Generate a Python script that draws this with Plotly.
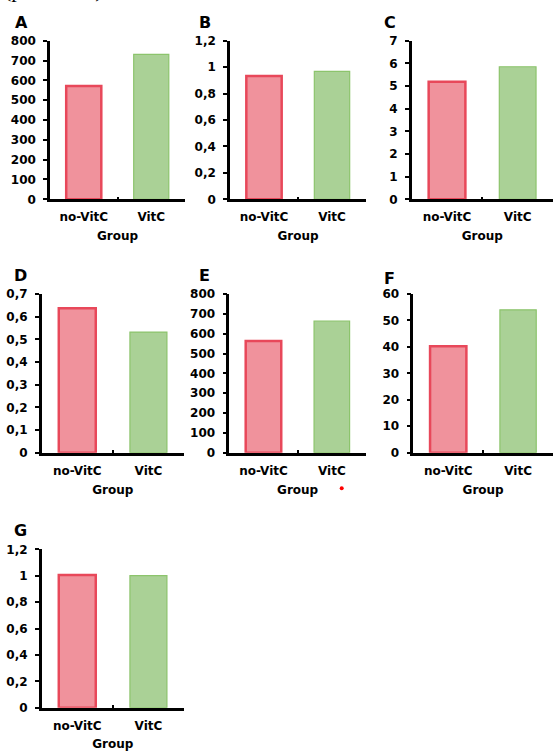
import plotly.graph_objects as go

W, H = 554, 751

groups = ["no-VitC", "VitC"]
panel_letters = ["A", "B", "C", "D", "E", "F", "G"]
values_A = [571, 731]
values_B = [0.933, 0.968]
values_C = [5.19, 5.85]
values_D = [0.637, 0.532]
values_E = [563, 664]
values_F = [40.2, 54.0]
values_G = [1.005, 1.0]
y_max = [800, 1.2, 7, 0.7, 800, 60, 1.2]
y_step = [100, 0.2, 1, 0.1, 100, 10, 0.2]
x_title = "Group"
header_text = "(p < 0.001)"

all_values = [values_A, values_B, values_C, values_D, values_E, values_F, values_G]

# panel pixel boxes: (x_left, x_right, y_bottom, y_top)
boxes = [
    (50, 185, 199.3, 40.7),
    (230, 366, 199.3, 40.7),
    (411.7, 553, 199.3, 40.7),
    (41.7, 184, 452.7, 294),
    (229.3, 366, 452.7, 294),
    (413.3, 553, 452.7, 294),
    (41.7, 184, 707.7, 549.3),
]
letter_pos = [(13, 22.5), (197, 22.5), (381.5, 22.5), (12, 275), (196.5, 276), (381.5, 278), (12, 530)]

red_fill = "#F0929C"
red_line = "#E8485A"
green_fill = "#AAD196"
green_line = "#8CC46C"

fig = go.Figure()
font_tick = dict(family="DejaVu Sans", size=12, color="black", weight="bold")

annotations = []
for i, (vals, box) in enumerate(zip(all_values, boxes)):
    n = "" if i == 0 else str(i + 1)
    xa, ya = "x" + n, "y" + n
    fig.add_trace(go.Bar(
        x=groups, y=vals, xaxis=xa, yaxis=ya, width=0.52,
        marker=dict(color=[red_fill, green_fill],
                    line=dict(color=[red_line, green_line], width=[2.5, 1.2])),
        showlegend=False, hoverinfo="skip",
    ))
    xl, xr, yb, yt = box
    xkey = "xaxis" + n
    ykey = "yaxis" + n
    fig.layout[xkey] = dict(
        domain=[xl / W, xr / W], anchor=ya, type="category", automargin=False,
        range=[-0.5, 1.5], showline=True, linecolor="black", linewidth=2.5,
        ticks="inside", tickson="boundaries", ticklen=3, tickwidth=2, tickcolor="black",
        showgrid=False, zeroline=False, tickfont=font_tick,
        ticklabelstandoff=5,
        title=dict(text=x_title, font=font_tick, standoff=9),
    )
    fig.layout[ykey] = dict(
        domain=[(H - yb) / H, (H - yt) / H], anchor=xa, automargin=False,
        range=[0, y_max[i]], dtick=y_step[i], tick0=0,
        showline=True, linecolor="black", linewidth=2.5,
        ticks="outside", ticklen=4, tickwidth=2, tickcolor="black",
        showgrid=False, zeroline=False, tickfont=font_tick,
        ticklabelstandoff=5,
    )
    lx, ly = letter_pos[i]
    annotations.append(dict(
        text=panel_letters[i], x=lx / W, y=1 - ly / H, xref="paper", yref="paper",
        xanchor="left", yanchor="middle", showarrow=False,
        font=dict(family="DejaVu Sans", size=16, color="black", weight="bold"),
    ))

annotations.append(dict(
    text=header_text, x=2 / W, y=1 - 4 / H, xref="paper", yref="paper",
    xanchor="left", yanchor="bottom", showarrow=False,
    font=dict(family="Liberation Serif", size=22, color="black"),
))

fig.update_layout(
    width=W, height=H, margin=dict(l=0, r=0, t=0, b=0, autoexpand=False),
    paper_bgcolor="white", plot_bgcolor="white",
    separators=",.", annotations=annotations,
    shapes=[dict(type="circle", xref="paper", yref="paper",
                 x0=339.7 / W, x1=343.7 / W, y0=1 - 490.3 / H, y1=1 - 486.3 / H,
                 fillcolor="red", line=dict(width=0))],
)

fig.write_html(
    "out.html",
    config={"displayModeBar": False},
    post_script="document.body.style.margin='0px';document.body.style.overflow='hidden';",
)
